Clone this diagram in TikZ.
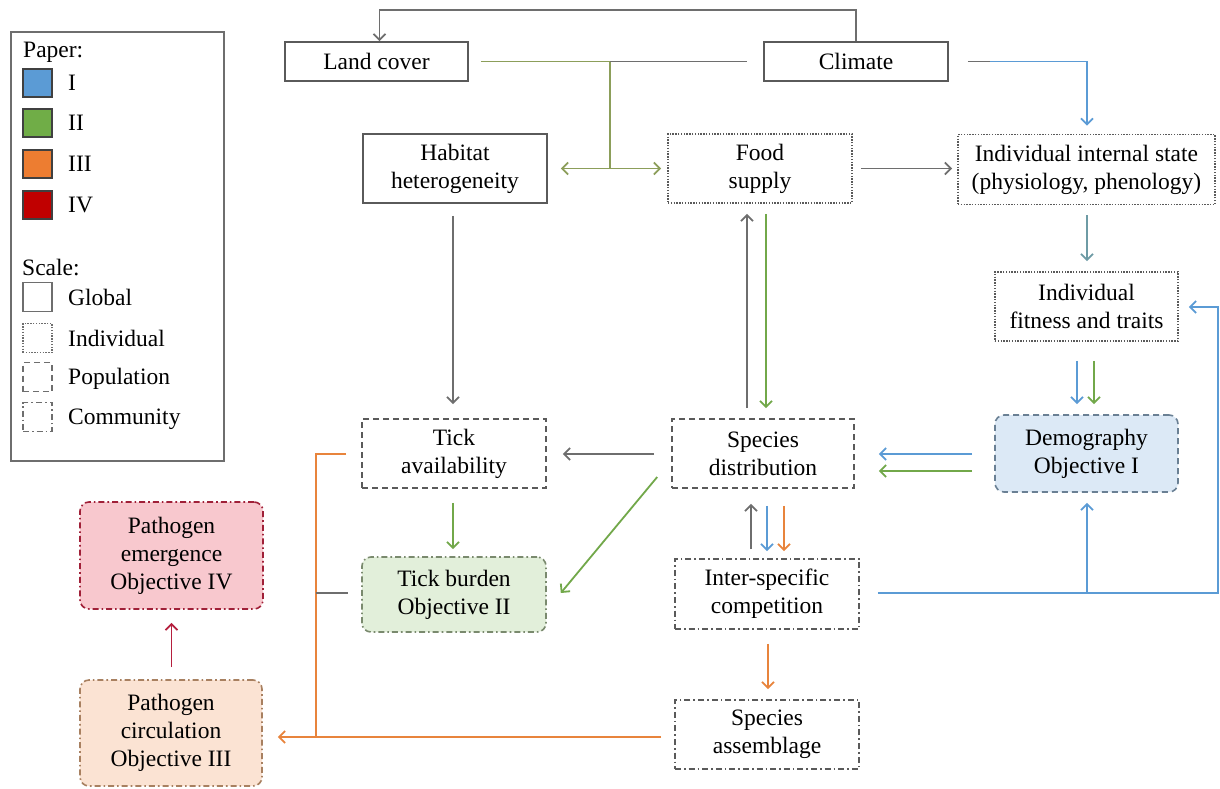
\documentclass[tikz,border=0pt]{standalone}
\usepackage{fontspec}
\setmainfont{Liberation Serif}
\usetikzlibrary{arrows.meta,calc}
\definecolor{bgray}{HTML}{5A5A5A}
\definecolor{lgray}{HTML}{6E6E6E}
\definecolor{olivec}{HTML}{8C9E5A}
\definecolor{blu}{HTML}{5B9BD5}
\definecolor{grn}{HTML}{72A84A}
\definecolor{org}{HTML}{E8843C}
\definecolor{redc}{HTML}{B51F3E}
\definecolor{tealc}{HTML}{6E9BA5}
\definecolor{swI}{HTML}{5B9BD5}
\definecolor{swII}{HTML}{70AD47}
\definecolor{swIII}{HTML}{ED7D31}
\definecolor{swIV}{HTML}{C00000}
\definecolor{fillI}{HTML}{DCE9F6}
\definecolor{fillII}{HTML}{E2EFDA}
\definecolor{fillIV}{HTML}{F8C8CE}
\definecolor{fillIII}{HTML}{FBE3D3}
\definecolor{brdI}{HTML}{6A8094}
\definecolor{brdII}{HTML}{7A8A6E}
\definecolor{brdIV}{HTML}{A02038}
\definecolor{brdIII}{HTML}{A88060}
\begin{document}
\begin{tikzpicture}[x=1pt,y=-1pt,
  font=\fontsize{23.5}{28}\selectfont,
  box/.style={draw=bgray, line width=1.6pt, inner sep=0pt, align=center, text=black},
  glob/.style={box},
  indiv/.style={box, dash pattern=on 1.4pt off 1.4pt},
  popu/.style={box, dash pattern=on 6pt off 4pt},
  comm/.style={box, dash pattern=on 6pt off 3pt on 1.6pt off 3pt},
  con/.style={line width=1.8pt},
  arr/.style={con, -{Straight Barb[length=6pt,width=12pt]}},
  darr/.style={con, {Straight Barb[length=6pt,width=12pt]}-{Straight Barb[length=6pt,width=12pt]}},
  sw/.style={draw=black!75, line width=1.3pt, minimum width=29pt, minimum height=28pt, inner sep=0pt},
  sc/.style={minimum width=29pt, minimum height=29pt, inner sep=0pt, draw=lgray, line width=1.4pt},
  lab/.style={anchor=west, inner sep=0pt}
]
\fill[white] (0,0) rectangle (1220,788);
\useasboundingbox (0,0) rectangle (1220,788);

% legend
\node[draw=lgray, line width=1.6pt, minimum width=213pt, minimum height=429pt, inner sep=0pt] (legend) at (117.5,246.5) {};
\node[lab] (lpaper) at (23,52) {Paper:};
\node[sw, fill=swI] (s1) at (37.5,83) {};
\node[sw, fill=swII] (s2) at (37.5,123) {};
\node[sw, fill=swIII] (s3) at (37.5,164) {};
\node[sw, fill=swIV] (s4) at (37.5,205) {};
\node[lab] (l1) at (68,83) {I};
\node[lab] (l2) at (68,123) {II};
\node[lab] (l3) at (68,164) {III};
\node[lab] (l4) at (68,205) {IV};
\node[lab] (lscale) at (22,268) {Scale:};
\node[sc] (c1) at (37.5,297) {};
\node[sc, dash pattern=on 1.4pt off 1.4pt] (c2) at (37.5,338) {};
\node[sc, dash pattern=on 6pt off 4pt] (c3) at (37.5,377) {};
\node[sc, dash pattern=on 6pt off 3pt on 1.6pt off 3pt] (c4) at (37.5,417) {};
\node[lab] (g1) at (68,297) {Global};
\node[lab] (g2) at (68,338) {Individual};
\node[lab] (g3) at (68,379) {Population};
\node[lab] (g4) at (68,419) {Community};

% main nodes
\node[glob, minimum width=183pt, minimum height=39pt] (land) at (376.5,61.5) {Land cover};
\node[glob, minimum width=184pt, minimum height=39pt] (climate) at (856,61.5) {Climate};
\node[glob, minimum width=184pt, minimum height=69pt] (habitat) at (455,168.5) {Habitat\\heterogeneity};
\node[indiv, minimum width=184pt, minimum height=69pt] (food) at (760,168.5) {Food\\supply};
\node[indiv, minimum width=257pt, minimum height=70pt] (internal) at (1086.5,169.5) {Individual internal state\\(physiology, phenology)};
\node[indiv, minimum width=183pt, minimum height=69pt] (fitness) at (1086.5,306.5) {Individual\\fitness and traits};
\node[popu, draw=brdI, fill=fillI, rounded corners=9pt, minimum width=183pt, minimum height=77pt] (demog) at (1086.5,453.5) {Demography\\Objective I};
\node[popu, minimum width=182pt, minimum height=69pt] (specdist) at (763,453.5) {Species\\distribution};
\node[popu, minimum width=184pt, minimum height=69pt] (tickav) at (454,453.5) {Tick\\availability};
\node[comm, draw=brdII, fill=fillII, rounded corners=9pt, minimum width=184pt, minimum height=75pt] (tickb) at (454,594.5) {Tick burden\\Objective II};
\node[comm, minimum width=184pt, minimum height=70pt] (inter) at (767,594) {Inter-specific\\competition};
\node[comm, minimum width=184pt, minimum height=69pt] (assem) at (767,734.5) {Species\\assemblage};
\node[comm, draw=brdIV, fill=fillIV, rounded corners=9pt, minimum width=183pt, minimum height=107pt] (emerg) at (171.5,555.5) {Pathogen\\emergence\\Objective IV};
\node[comm, draw=brdIII, fill=fillIII, rounded corners=9pt, minimum width=182pt, minimum height=106pt] (circ) at (171,733) {Pathogen\\circulation\\Objective III};

% coordinates
\coordinate (j1) at (610,61.5);
\coordinate (j2) at (610,168.5);
\coordinate (cb) at (990,61.5);
\coordinate (rc) at (1218,593);
\coordinate (rt) at (1218,307);
\coordinate (bj) at (1087,593);
\coordinate (ov1) at (316,454);
\coordinate (ov2) at (316,737);
\coordinate (ov3) at (316,593);

% connectors
\draw[arr, lgray] (climate.north) -- ($(climate.north)+(0,-31)$) -| ($(land.north)+(3,0)$);
\draw[con, olivec] ($(land.east)+(12,0)$) -- (j1);
\draw[con, lgray] (j1) -- ($(climate.west)+(-16,0)$);
\draw[con, olivec] (j1) -- (j2);
\draw[darr, olivec] ($(habitat.east)+(13,0)$) -- ($(food.west)+(-6,0)$);
\draw[con, lgray] ($(climate.east)+(19,0)$) -- (cb);
\draw[arr, blu] (cb) -| ($(internal.north)+(0.5,-8)$);
\draw[arr, lgray] ($(food.east)+(8,0)$) -- ($(internal.west)+(-5,-1)$);
\draw[arr, tealc] ($(internal.south)+(0.5,10)$) -- ($(fitness.north)+(0.5,-10)$);
\draw[arr, blu] ($(fitness.south)+(-9.5,19)$) -- ($(demog.north)+(-9.5,-10)$);
\draw[arr, grn] ($(fitness.south)+(7.5,19)$) -- ($(demog.north)+(7.5,-10)$);
\draw[arr, blu] ($(demog.west)+(-22,0.5)$) -- ($(specdist.east)+(24,0.5)$);
\draw[arr, grn] ($(demog.west)+(-22,17.5)$) -- ($(specdist.east)+(24,17.5)$);
\draw[arr, lgray] ($(specdist.north)+(-16,-10)$) -- ($(food.south)+(-13,10)$);
\draw[arr, grn] ($(food.south)+(6,10)$) -- ($(specdist.north)+(3,-10)$);
\draw[arr, lgray] ($(habitat.south)+(-2,12)$) -- ($(tickav.north)+(-1,-14)$);
\draw[arr, lgray] ($(specdist.west)+(-17,0.5)$) -- ($(tickav.east)+(16,0.5)$);
\draw[arr, grn] ($(specdist.west)+(-14,23.5)$) -- ($(tickb.east)+(14,-1.5)$);
\draw[arr, grn] ($(tickav.south)+(-1,14)$) -- ($(tickb.north)+(-1,-7)$);
\draw[arr, lgray] ($(inter.north)+(-16,-9)$) -- ($(specdist.south)+(-12,15)$);
\draw[arr, blu] ($(specdist.south)+(4,17)$) -- ($(inter.north)+(0,-7)$);
\draw[arr, org] ($(specdist.south)+(21,17)$) -- ($(inter.north)+(17,-7)$);
\draw[arr, org] ($(inter.south)+(1,14)$) -- ($(assem.north)+(1,-10)$);
\draw[arr, blu] ($(inter.east)+(18,-1)$) -- (rc) -- (rt) -- ($(fitness.east)+(10,0.5)$);
\draw[arr, blu] (bj) -- ($(demog.south)+(0.5,10)$);
\draw[arr, org] ($(assem.west)+(-13,2.5)$) -- ($(circ.east)+(15,4)$);
\draw[con, org] ($(tickav.west)+(-15,0.5)$) -- (ov1) -- (ov2);
\draw[con, lgray] (ov3) -- ($(tickb.west)+(-13,-1.5)$);
\draw[arr, redc] ($(circ.north)+(0.5,-12)$) -- ($(emerg.south)+(0,13)$);
\end{tikzpicture}
\end{document}
